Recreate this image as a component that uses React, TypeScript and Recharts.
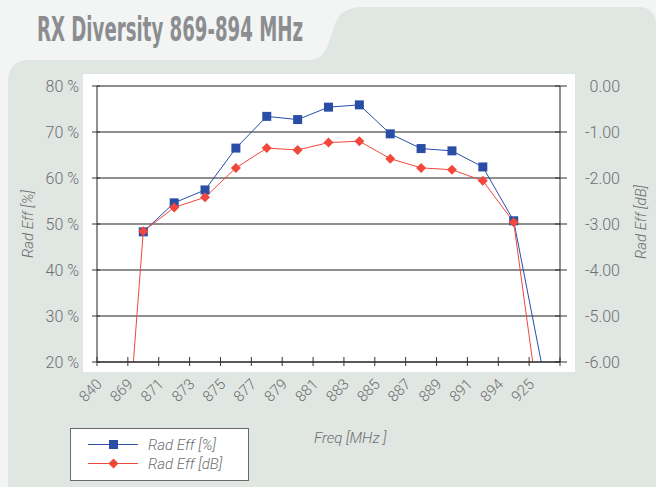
import { LineChart, Line, XAxis, YAxis, CartesianGrid } from 'recharts';

// frequency labels (MHz), one per category
const categories = ['840', '869', '871', '873', '875', '877', '879', '881', '883', '885', '887', '889', '891', '894', '925'];
// radiated efficiency in %
const effPct = [null, 48.3, 54.6, 57.4, 66.5, 73.4, 72.7, 75.4, 75.9, 69.6, 66.4, 65.9, 62.4, 50.7, 16.3];
// radiated efficiency in dB
const effDb = [-12.0, -3.16, -2.64, -2.42, -1.78, -1.35, -1.39, -1.23, -1.2, -1.58, -1.78, -1.82, -2.06, -2.96, -7.9];

const pctTicks = [20, 30, 40, 50, 60, 70, 80];
const dbTicks = [-6, -5, -4, -3, -2, -1, 0];
const xTicks = categories.map((_, i) => i).concat([categories.length]);

const BLUE = '#2a4ea6';
const RED = '#f2473b';
const TEXT = '#6d6e71';
const FONT = 'Roboto, "Liberation Sans", Arial, sans-serif';

const data = categories.map((c, i) => ({ x: i + 0.5, freq: c, pct: effPct[i], db: effDb[i] }));

const XTick = (props: any) => {
  const { x, y, payload } = props;
  const label = categories[payload.value] ?? '';
  return (
    <g>
      <line x1={x} x2={x} y1={y - 5} y2={y + 4} stroke="#333" strokeWidth={1} />
      <text
        x={x + 6}
        y={y + 23}
        textAnchor="end"
        transform={`rotate(-45, ${x + 6}, ${y + 23})`}
        fill={TEXT}
        fontSize={15}
        fontWeight={300}
        fontFamily={FONT}
      >
        {label}
      </text>
    </g>
  );
};

const LeftTick = (props: any) => {
  const { x, y, payload } = props;
  return (
    <g>
      <line x1={x - 5} x2={x + 3} y1={y} y2={y} stroke="#333" strokeWidth={1} />
      <text x={x - 18} y={y} dy="0.35em" textAnchor="end" fill={TEXT} fontSize={16} fontWeight={300} fontFamily={FONT}>
        {`${payload.value} %`}
      </text>
    </g>
  );
};

const RightTick = (props: any) => {
  const { x, y, payload } = props;
  return (
    <g>
      <line x1={x - 5} x2={x + 7} y1={y} y2={y} stroke="#333" strokeWidth={1} />
      <text x={x + 60} y={y} dy="0.35em" textAnchor="end" fill={TEXT} fontSize={16} fontWeight={300} fontFamily={FONT}>
        {Number(payload.value).toFixed(2)}
      </text>
    </g>
  );
};

const SquareDot = (props: any) => {
  const { cx, cy, index } = props;
  if (cx == null || cy == null || props.value == null) return <g key={`s${index}`} />;
  return <rect key={`s${index}`} x={cx - 4.5} y={cy - 4.5} width={9} height={9} fill={BLUE} />;
};

const DiamondDot = (props: any) => {
  const { cx, cy, index } = props;
  if (cx == null || cy == null) return <g key={`d${index}`} />;
  const r = 5;
  return <polygon key={`d${index}`} points={`${cx},${cy - r} ${cx + r},${cy} ${cx},${cy + r} ${cx - r},${cy}`} fill={RED} />;
};

export default function App() {
  return (
    <div style={{ position: 'absolute', left: 0, top: 0, width: 656, height: 487, background: '#f3f5f4', overflow: 'hidden' }}>
      <svg width={656} height={487} style={{ position: 'absolute', left: 0, top: 0 }}>
        <path
          d="M8,82 Q8,60 30,60 L308,60 Q324,60 329,42 L335,24 Q341,7 362,7 L638,7 Q656,7 656,25 L656,487 L8,487 Z"
          fill="#e0e6e2"
        />
        <rect x={83} y={74} width={492} height={298} fill="#ffffff" />
        <text
          x={37}
          y={41}
          fill="#8b8d90"
          fontSize={34}
          fontWeight={700}
          fontFamily='"Liberation Sans Narrow", "DejaVu Sans Condensed", Arial, sans-serif'
          textLength={266}
          lengthAdjust="spacingAndGlyphs"
        >
          RX Diversity 869-894 MHz
        </text>
        <text
          x={0}
          y={0}
          transform="translate(33, 224) rotate(-90)"
          textAnchor="middle"
          fill={TEXT}
          fontSize={15}
          fontStyle="italic"
          fontWeight={300}
          fontFamily={FONT}
        >
          Rad Eff [%]
        </text>
        <text
          x={0}
          y={0}
          transform="translate(646, 222) rotate(-90)"
          textAnchor="middle"
          fill={TEXT}
          fontSize={15}
          fontStyle="italic"
          fontWeight={300}
          fontFamily={FONT}
        >
          Rad Eff [dB]
        </text>
        <text x={314} y={443} fill={TEXT} fontSize={15} fontStyle="italic" fontWeight={300} fontFamily={FONT}>
          Freq [MHz ]
        </text>
      </svg>

      <div style={{ position: 'absolute', left: 0, top: 0 }}>
        <LineChart width={656} height={487} data={data} margin={{ top: 86, right: 36, bottom: 95, left: 37 }}>
          <CartesianGrid yAxisId="pct" vertical={false} stroke="#1e1e1e" strokeWidth={1.2} />
          <XAxis
            dataKey="x"
            type="number"
            domain={[0, categories.length]}
            ticks={xTicks}
            interval={0}
            tick={XTick}
            tickLine={false}
            tickSize={0}
            tickMargin={0}
            height={30}
            axisLine={{ stroke: '#222' }}
          />
          <YAxis
            yAxisId="pct"
            orientation="left"
            domain={[20, 80]}
            ticks={pctTicks}
            allowDataOverflow
            width={60}
            tick={LeftTick}
            tickLine={false}
            tickSize={0}
            tickMargin={0}
            axisLine={{ stroke: '#222' }}
          />
          <YAxis
            yAxisId="db"
            orientation="right"
            domain={[-6, 0]}
            ticks={dbTicks}
            allowDataOverflow
            width={60}
            tick={RightTick}
            tickLine={false}
            tickSize={0}
            tickMargin={0}
            axisLine={{ stroke: '#222' }}
          />
          <Line
            yAxisId="pct"
            dataKey="pct"
            name="Rad Eff [%]"
            stroke={BLUE}
            strokeWidth={1}
            dot={SquareDot}
            activeDot={false}
            isAnimationActive={false}
          />
          <Line
            yAxisId="db"
            dataKey="db"
            name="Rad Eff [dB]"
            stroke={RED}
            strokeWidth={1}
            dot={DiamondDot}
            activeDot={false}
            isAnimationActive={false}
          />
        </LineChart>
      </div>

      <div
        style={{
          position: 'absolute',
          left: 70,
          top: 428,
          width: 177,
          height: 51,
          background: '#fff',
          border: '1px solid #6a6a6a',
          fontFamily: FONT,
          fontStyle: 'italic',
          fontWeight: 300,
          fontSize: 15,
          color: TEXT,
        }}
      >
        {[
          { name: 'Rad Eff [%]', color: BLUE, shape: 'square' },
          { name: 'Rad Eff [dB]', color: RED, shape: 'diamond' },
        ].map((item, i) => (
          <div key={item.name} style={{ position: 'absolute', left: 0, top: 6 + i * 19, height: 19, display: 'flex', alignItems: 'center' }}>
            <svg width={76} height={19}>
              <line x1={17} x2={67} y1={9.5} y2={9.5} stroke={item.color} strokeWidth={1} />
              {item.shape === 'square' ? (
                <rect x={38} y={5} width={9} height={9} fill={item.color} />
              ) : (
                <polygon points="42.5,4.5 47.5,9.5 42.5,14.5 37.5,9.5" fill={item.color} />
              )}
            </svg>
            <span style={{ marginLeft: 1 }}>{item.name}</span>
          </div>
        ))}
      </div>
    </div>
  );
}
